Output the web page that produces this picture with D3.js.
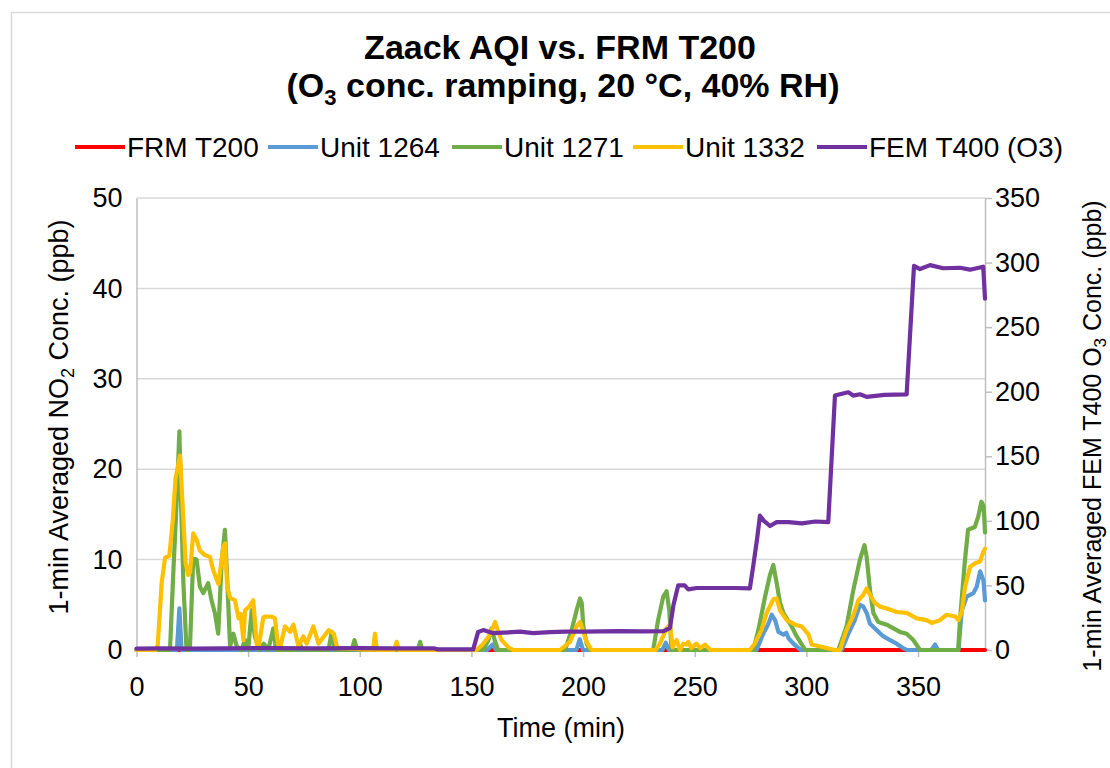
<!DOCTYPE html>
<html><head><meta charset="utf-8">
<script src="https://cdn.jsdelivr.net/npm/d3@7"></script>
<style>
body{margin:0;background:#fff;}
text{font-family:"Liberation Sans",Arial,sans-serif;fill:#000;}
</style></head>
<body><svg id="chart" width="1110" height="768"></svg>
<script>
// ---- data ----
const xTicks = [0, 50, 100, 150, 200, 250, 300, 350];
const yTicks = [0, 10, 20, 30, 40, 50];
const y2Ticks = [0, 50, 100, 150, 200, 250, 300, 350];
const seriesNames = ["FRM T200", "Unit 1264", "Unit 1271", "Unit 1332", "FEM T400 (O3)"];

const timeFRM = [0, 95, 190, 285, 380];
const valFRM  = [0, 0, 0, 0, 0];

const time1264 = [0, 18.1, 19.2, 20.2, 157, 159.5, 161, 197, 198.5, 200, 235.5, 237, 238.5,
  277.7, 280.7, 283, 284.5, 286, 287.5, 289.7, 291, 292, 294.2, 296.5, 297.5,
  315.8, 318.8, 321.7, 324, 325.5, 327, 328.5, 331.5, 334.5, 337.5, 340.4, 343.4, 344.9,
  356, 357.6, 359, 368.1, 369.6, 371.8, 374.8, 376.3, 377.8, 379.3, 380];
const val1264 = [0, 0, 4.6, 0, 0, 0.6, 0, 0, 1.2, 0, 0, 0.8, 0,
  0, 1.8, 2.9, 3.9, 3.3, 2.0, 1.7, 1.9, 1.3, 0.7, 0.2, 0,
  0, 1.8, 3.3, 5.0, 4.8, 4.1, 2.9, 2.2, 1.5, 1.1, 0.7, 0.2, 0,
  0, 0.6, 0, 0, 4.4, 5.9, 6.3, 7.0, 8.7, 7.7, 5.5];

const time1271 = [0, 15, 16.6, 18.1, 19.2, 20, 21, 22.4, 23.9, 25.4, 26.9, 28.4, 29.9, 32.1, 33.6,
  35.1, 36.6, 38.2, 39.6, 40.4, 41.9, 43.4, 44.9, 47, 48.6, 50, 51.6, 53, 55, 57, 59, 61.3, 62.5,
  72, 73.2, 74.5, 86, 87.4, 88.8, 96.5, 97.6, 98.8, 126, 127, 128,
  155.3, 157.6, 159, 160.5, 162, 191.9, 194.9, 197.1, 198.6, 199.4, 200.1, 201.6, 203.1,
  231.4, 233.6, 235.9, 237.4, 238.6, 239.6, 276.2, 278.5, 281.5, 283.7, 285.2, 286.7, 288.2,
  289.7, 291.2, 293.4, 295.7, 298, 299.5, 314.3, 318, 321, 324, 326, 327, 328.5, 330, 332.2,
  336, 339, 341.9, 344.9, 347.9, 350.9, 368, 368.8, 370.9, 372.4, 375.4, 376.9, 378.4, 379.4, 380];
const val1271 = [0, 0, 9.2, 17, 24.2, 16, 7.4, 0, 0, 10.1, 10, 7, 6.3, 7.4, 5.5,
  4.1, 1.8, 10, 13.3, 9.2, 0.4, 1.8, 0.4, 0, 1.1, 0, 4.4, 1.5, 0, 0.7, 0, 2.4, 0,
  0, 0.6, 0, 0, 2.0, 0, 0, 1.1, 0, 0, 0.9, 0,
  0, 1.1, 2.4, 1.0, 0, 0, 2.2, 4.4, 5.7, 5.2, 2.6, 0.7, 0,
  0, 3.3, 5.9, 6.5, 4.4, 0, 0, 2.2, 5.9, 8.3, 9.4, 7.4, 5.2,
  4.1, 3.5, 2.6, 1.5, 0.6, 0, 0, 2.6, 6.6, 10, 11.6, 10.3, 6.6, 4.1, 3.1,
  2.8, 2.4, 2.0, 1.8, 1.1, 0, 0, 3.3, 9.6, 13.3, 13.6, 14.7, 16.4, 15.9, 13];

const time1332 = [0, 8.5, 9.5, 11.3, 12.8, 14.7, 16.2, 17.5, 19.5, 20.7, 22.0, 23.2, 24.0, 25.4,
  26.9, 28.4, 30.6, 32.9, 34.4, 36.7, 38.9, 39.7, 40.6, 41.9, 44.1, 45.7, 46.6, 47.9, 48.6,
  50.5, 52.3, 53.8, 54.6, 56.8, 57.5, 60.5, 62, 63.3, 64.3, 66.5, 68.8, 70.3, 72.5, 74.7,
  76.2, 79.2, 81.5, 83.9, 86.1, 88.4, 89.9, 106, 106.8, 107.6, 115.5, 116.5, 117.5,
  152.3, 155.3, 158.3, 160.6, 162, 163.5, 166.5, 168.8, 189.7, 194.1, 197.1, 198.6, 200.1,
  201.6, 203.8, 232.5, 234.4, 237.4, 238.9, 240.1, 241.9, 243.4, 244.9, 246.4, 247.1, 248.5,
  250.8, 252.5, 254.6, 257, 274.7, 276.9, 279.9, 282.2, 284, 285.2, 286.7, 288.2, 291.2,
  295, 298, 301, 302.4, 312.8, 315, 318, 321, 323.3, 325.5, 327, 328.5, 330.7, 333, 336,
  340.4, 344.9, 349.4, 353.9, 356.1, 359.8, 362.8, 366.6, 368.1, 369.6, 371.1, 373.3,
  375.6, 377.8, 379.3, 380];
const val1332 = [0, 0, 0.5, 7.5, 10.2, 10.4, 14.2, 19, 21.5, 15.8, 9.6, 8.3, 8.6, 12.9,
  12.2, 11, 10.5, 10.3, 8.8, 7.3, 11.4, 11.8, 7, 5.8, 5.5, 3.5, 4, 1.1, 4.4,
  4.8, 5.5, 0.7, 0.2, 3.6, 3.7, 3.7, 3.5, 0.7, 0.2, 2.6, 2.0, 2.8, 0.4, 1.5,
  0.7, 2.6, 0.7, 1.5, 2.2, 1.8, 0.2, 0, 1.8, 0, 0, 0.9, 0,
  0, 0.7, 1.7, 3.1, 2.0, 1.1, 0.3, 0, 0, 0.9, 2.6, 3.1, 2.0,
  0.9, 0, 0, 0.7, 2.4, 2.8, 0.3, 1.1, 0, 0.7, 0.6, 0.9, 0.2,
  0.7, 0.2, 0.6, 0, 0, 0.7, 2.2, 4.1, 5.0, 5.6, 5.7, 4.4, 3.3, 2.8,
  2.6, 1.7, 0.6, 0, 0, 2.2, 3.8, 5.5, 6.1, 6.8, 6.1, 5.2, 4.8, 4.6, 4.2,
  4.1, 3.5, 3.3, 3.0, 3.3, 3.9, 3.7, 3.3, 4.2, 7.0, 9.2, 9.6,
  9.8, 10.9, 11.2, 9.8];

const timeFEM = [0, 10, 25, 40, 60, 80, 100, 115, 133, 135, 150.8, 153, 155.3, 159.8, 164.3,
  171.7, 177.7, 185.2, 191.9, 200, 216.5, 227, 236, 238.9, 240.5, 242.6, 245.5, 247.1, 250.9,
  260, 268, 274.7, 276.2, 278, 279.2, 281, 283.7, 286.7, 292, 298, 304, 309.8, 312.8, 315,
  318.8, 321, 324, 327, 335, 344.9, 348.2, 350.9, 355.4, 361.3, 368.8, 373.3, 379.2, 380];
const valFEM = [1, 1.2, 1, 1.3, 1.5, 1.2, 1.4, 1.3, 1.3, 0.5, 0.5, 14, 15.4, 13, 13.4,
  14.2, 13, 13.8, 14.2, 14.2, 14.6, 14.4, 14.6, 17, 35, 50, 50, 47, 48,
  48, 48, 47.7, 65, 87, 104, 100, 96, 99, 99, 98, 99.5, 99, 197, 198,
  199.6, 197, 198, 196, 197.5, 198, 297.5, 295, 298, 295.6, 296, 294.5, 296.8, 272];

// ---- chart ----
const svg = d3.select("#chart");
const L = 136.5, R = 985, T = 198, B = 650;
const x = d3.scaleLinear().domain([0, 380]).range([L, R]);
const y = d3.scaleLinear().domain([0, 50]).range([B, T]);
const y2 = d3.scaleLinear().domain([0, 350]).range([B, T]);

svg.append("rect").attr("x", 11.5).attr("y", 12.5).attr("width", 1200).attr("height", 900)
  .attr("fill", "#fff").attr("stroke", "#d9d9d9").attr("stroke-width", 1.5);

// gridlines
svg.append("g").selectAll("line").data(yTicks.filter(d => d > 0)).join("line")
  .attr("x1", L).attr("x2", R).attr("y1", d => y(d)).attr("y2", d => y(d))
  .attr("stroke", "#d9d9d9").attr("stroke-width", 1.5);

function styleAxis(g) {
  g.select(".domain").attr("stroke", "#bfbfbf").attr("stroke-width", 1.5);
  g.selectAll(".tick line").attr("stroke", "#bfbfbf").attr("stroke-width", 1.5);
  g.selectAll(".tick text").attr("fill", "#000").style("font-size", "27px")
    .style("font-family", "'Liberation Sans', Arial, sans-serif");
}
const gx = svg.append("g").attr("transform", `translate(0,${B})`)
  .call(d3.axisBottom(x).tickValues(xTicks).tickSize(7).tickSizeOuter(0).tickPadding(20));
styleAxis(gx);
const gy = svg.append("g").attr("transform", `translate(${L},0)`)
  .call(d3.axisLeft(y).tickValues(yTicks).tickSize(0).tickSizeOuter(0).tickPadding(14));
styleAxis(gy);
const gy2 = svg.append("g").attr("transform", `translate(${R},0)`)
  .call(d3.axisRight(y2).tickValues(y2Ticks).tickSize(7).tickSizeOuter(0).tickPadding(3));
styleAxis(gy2);

const colors = ["#ff0000", "#5b9bd5", "#70ad47", "#ffc000", "#7030a0"];
const series = [
  {t: timeFRM, v: valFRM, s: y},
  {t: time1264, v: val1264, s: y},
  {t: time1271, v: val1271, s: y},
  {t: time1332, v: val1332, s: y},
  {t: timeFEM, v: valFEM, s: y2}
];
series.forEach((sr, i) => {
  const pts = sr.t.map((t, j) => [t, sr.v[j]]);
  const line = d3.line().x(d => x(d[0])).y(d => sr.s(d[1]));
  svg.append("path").datum(pts).attr("d", line).attr("fill", "none")
    .attr("stroke", colors[i]).attr("stroke-width", 4.2)
    .attr("stroke-linejoin", "round").attr("stroke-linecap", "round");
});

// title
svg.append("text").attr("x", 560).attr("y", 59).attr("text-anchor", "middle")
  .style("font-size", "34px").style("font-weight", "bold").text("Zaack AQI vs. FRM T200");
const t2 = svg.append("text").attr("x", 563).attr("y", 97).attr("text-anchor", "middle")
  .style("font-size", "34px").style("font-weight", "bold");
t2.append("tspan").text("(O");
t2.append("tspan").attr("dy", 8).style("font-size", "22px").text("3");
t2.append("tspan").attr("dy", -8).text(" conc. ramping, 20 °C, 40% RH)");

// legend
const legX = [75, 268, 452, 633, 817];
const legend = svg.append("g");
seriesNames.forEach((n, i) => {
  legend.append("line").attr("x1", legX[i]).attr("x2", legX[i] + 50).attr("y1", 147).attr("y2", 147)
    .attr("stroke", colors[i]).attr("stroke-width", 4);
  legend.append("text").attr("x", legX[i] + 52).attr("y", 157).style("font-size", "28px").text(n);
});

// axis titles
svg.append("text").attr("x", 561).attr("y", 737).attr("text-anchor", "middle")
  .style("font-size", "27px").text("Time (min)");
const ly = svg.append("text").attr("transform", `translate(68,417) rotate(-90)`)
  .attr("text-anchor", "middle").style("font-size", "27px");
ly.append("tspan").text("1-min Averaged NO");
ly.append("tspan").attr("dy", 6).style("font-size", "18px").text("2");
ly.append("tspan").attr("dy", -6).text(" Conc. (ppb)");
const ry = svg.append("text").attr("transform", `translate(1101,436) rotate(-90)`)
  .attr("text-anchor", "middle").style("font-size", "25px");
ry.append("tspan").text("1-min Averaged FEM T400 O");
ry.append("tspan").attr("dy", 5).style("font-size", "17px").text("3");
ry.append("tspan").attr("dy", -5).text(" Conc. (ppb)");
</script></body></html>
